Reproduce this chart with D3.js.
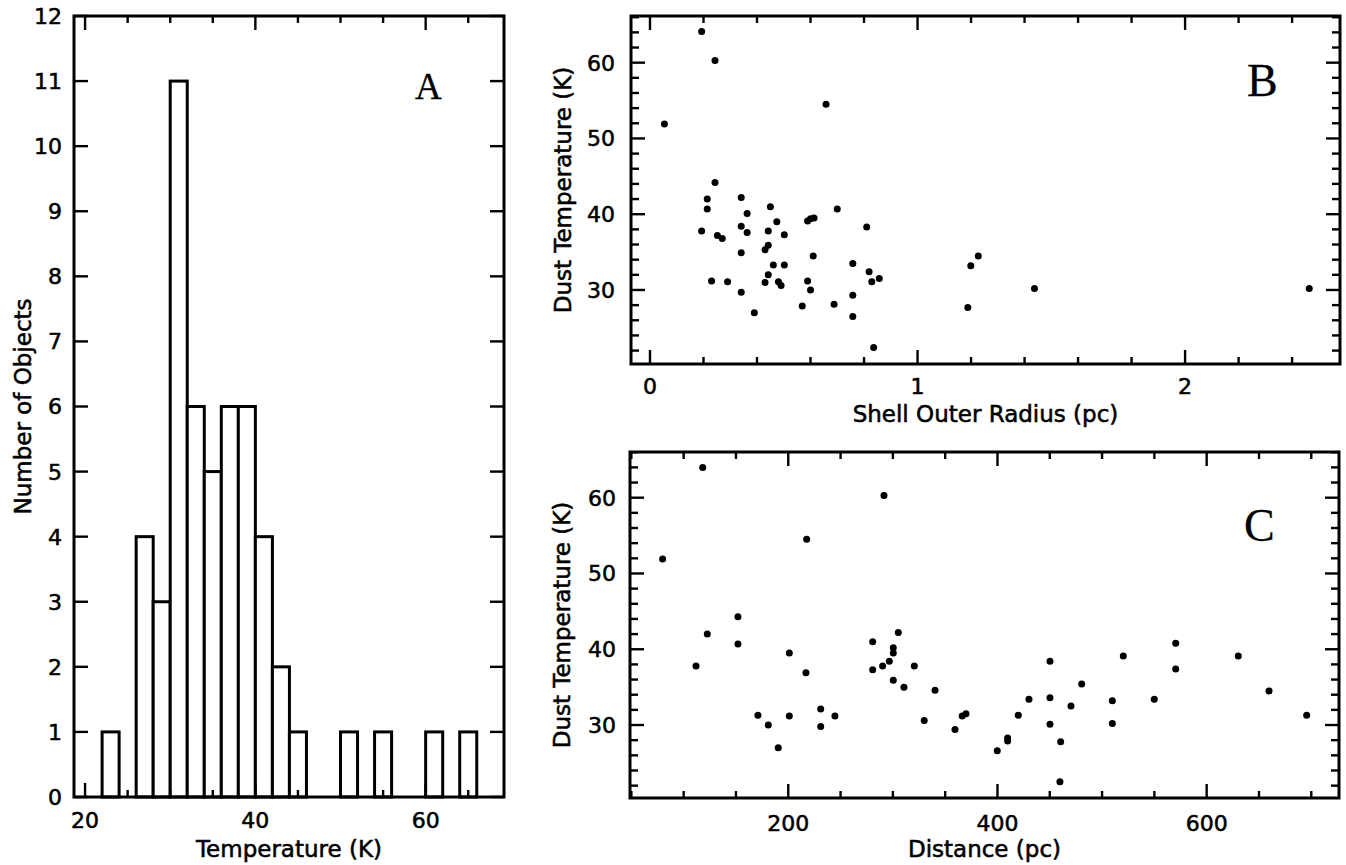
<!DOCTYPE html>
<html>
<head>
<meta charset="utf-8">
<script src="https://cdn.jsdelivr.net/npm/d3@7"></script>
<style>
  body { margin: 0; background: #fff; }
  svg text { font-family: "DejaVu Sans", sans-serif; fill: #000; }
  .lbl { stroke: #000; stroke-width: 0.55px; }
  .panel-tag { font-family: "Liberation Serif", "Times New Roman", serif; stroke: #000; stroke-width: 0.3px; }
</style>
</head>
<body>
<svg id="fig" width="1346" height="865"></svg>
<script>
// ---- Panel A: histogram of dust temperatures (2 K bins) ----
const binStart = [22, 26, 28, 30, 32, 34, 36, 38, 40, 42, 44, 50, 54, 60, 64];
const binWidth = 2;
const binCount = [1, 4, 3, 11, 6, 5, 6, 6, 4, 2, 1, 1, 1, 1, 1];

// ---- Panel B: shell outer radius (pc) vs dust temperature (K) ----
const radiusPc = [0.193, 0.243, 0.054, 0.658, 0.243, 0.214, 0.214, 0.193, 0.252, 0.270,
  0.230, 0.290, 0.341, 0.363, 0.341, 0.363, 0.341, 0.341, 0.390, 0.450,
  0.474, 0.442, 0.502, 0.442, 0.430, 0.461, 0.502, 0.442, 0.430, 0.480,
  0.490, 0.589, 0.600, 0.613, 0.610, 0.589, 0.600, 0.569, 0.700, 0.688,
  0.810, 0.758, 0.758, 0.758, 0.819, 0.829, 0.857, 0.836, 1.227, 1.199,
  1.188, 1.437, 2.464];
const radiusTemp = [64.1, 60.3, 51.9, 54.5, 44.2, 42.0, 40.7, 37.8, 37.2, 36.8,
  31.2, 31.1, 42.2, 40.1, 38.4, 37.6, 34.9, 29.7, 27.0, 41.0,
  39.0, 37.8, 37.3, 35.9, 35.3, 33.3, 33.3, 32.0, 31.0, 31.1,
  30.6, 39.1, 39.4, 39.5, 34.5, 31.2, 30.0, 27.9, 40.7, 28.1,
  38.3, 33.5, 29.3, 26.5, 32.4, 31.1, 31.5, 22.4, 34.5, 33.2,
  27.7, 30.2, 30.2];

// ---- Panel C: distance (pc) vs dust temperature (K) ----
const distancePc = [79.9, 118.2, 111.8, 122.6, 151.9, 151.9, 171.0, 180.9, 190.4, 201.0,
  201.0, 217.6, 216.9, 231.0, 231.0, 244.6, 291.5, 280.7, 280.7, 290.2,
  296.6, 300.4, 300.4, 305.2, 300.4, 310.6, 320.5, 340.3, 330.0, 359.4,
  366.3, 369.9, 399.8, 409.7, 409.7, 419.9, 430.1, 450.2, 450.2, 450.2,
  460.4, 459.7, 470.3, 480.5, 509.8, 509.8, 520.3, 549.9, 570.4, 570.4,
  630.2, 659.6, 695.6];
const distanceTemp = [51.9, 64.0, 37.8, 42.0, 44.3, 40.7, 31.3, 30.0, 27.0, 39.5,
  31.2, 54.5, 36.9, 32.1, 29.8, 31.2, 60.3, 41.0, 37.3, 37.8,
  38.4, 40.2, 39.5, 42.2, 35.9, 35.0, 37.8, 34.6, 30.6, 29.4,
  31.2, 31.5, 26.6, 27.9, 28.3, 31.3, 33.4, 38.4, 33.6, 30.1,
  27.8, 22.5, 32.5, 35.4, 33.2, 30.2, 39.1, 33.4, 40.8, 37.4,
  39.1, 34.5, 31.3];

// ---- Axis ticks ----
const histXMajor = [20, 40, 60];
const histXMinor = [25, 30, 35, 45, 50, 55, 65];
const histYMajor = d3.range(0, 13);
const radiusXMajor = [0, 1, 2];
const radiusXMinor = [0.2, 0.4, 0.6, 0.8, 1.2, 1.4, 1.6, 1.8, 2.2, 2.4];
const tempYMajor = [30, 40, 50, 60];
const tempYMinor = [22, 24, 26, 28, 32, 34, 36, 38, 42, 44, 46, 48, 52, 54, 56, 58, 62, 64, 66];
const distXMajor = [200, 400, 600];
const distXMinor = [50, 100, 150, 250, 300, 350, 450, 500, 550, 650, 700];

const svg = d3.select("#fig");

function makePanel(cfg) {
  const g = svg.append("g");
  const x = d3.scaleLinear().domain(cfg.xDomain).range([cfg.left, cfg.right]);
  const y = d3.scaleLinear().domain(cfg.yDomain).range([cfg.bottom, cfg.top]);
  return { g, x, y, cfg };
}

function drawFrame(p) {
  const { g, x, y, cfg } = p;
  const tg = g.append("g").attr("stroke", "#000").attr("stroke-width", 2.4);
  const xt = (vals, len) => vals.forEach(v => {
    tg.append("line").attr("x1", x(v)).attr("x2", x(v)).attr("y1", cfg.bottom).attr("y2", cfg.bottom - len);
    tg.append("line").attr("x1", x(v)).attr("x2", x(v)).attr("y1", cfg.top).attr("y2", cfg.top + len);
  });
  const yt = (vals, len) => vals.forEach(v => {
    if (y(v) < cfg.top - 0.5 || y(v) > cfg.bottom + 0.5) return;
    tg.append("line").attr("y1", y(v)).attr("y2", y(v)).attr("x1", cfg.left).attr("x2", cfg.left + len);
    tg.append("line").attr("y1", y(v)).attr("y2", y(v)).attr("x1", cfg.right).attr("x2", cfg.right - len);
  });
  xt(cfg.xMajor, 14); xt(cfg.xMinor, 7);
  yt(cfg.yMajor, 14); yt(cfg.yMinor || [], 8);

  g.append("rect")
    .attr("x", cfg.left).attr("y", cfg.top)
    .attr("width", cfg.right - cfg.left).attr("height", cfg.bottom - cfg.top)
    .attr("fill", "none").attr("stroke", "#000").attr("stroke-width", 3);

  // tick labels
  g.append("g").selectAll("text").data(cfg.xMajor).join("text")
    .attr("class", "lbl")
    .attr("x", d => x(d)).attr("y", cfg.xLabelY)
    .attr("text-anchor", "middle").attr("font-size", 22)
    .text(d => d);
  g.append("g").selectAll("text").data(cfg.yMajor).join("text")
    .attr("class", "lbl")
    .attr("x", cfg.yLabelX).attr("y", d => y(d)).attr("dy", "0.36em")
    .attr("text-anchor", "end").attr("font-size", 22)
    .text(d => d);

  // axis titles
  g.append("text").attr("class", "lbl")
    .attr("x", (cfg.left + cfg.right) / 2).attr("y", cfg.xTitleY)
    .attr("text-anchor", "middle").attr("font-size", 23)
    .text(cfg.xTitle);
  g.append("text").attr("class", "lbl")
    .attr("transform", `translate(${cfg.yTitleX},${(cfg.top + cfg.bottom) / 2}) rotate(-90)`)
    .attr("text-anchor", "middle").attr("font-size", 23)
    .text(cfg.yTitle);

  // panel tag
  g.append("text").attr("class", "panel-tag")
    .attr("x", cfg.tag.x).attr("y", cfg.tag.y)
    .attr("font-size", cfg.tag.size)
    .text(cfg.tag.text);
}

// ---------- Panel A ----------
const pA = makePanel({
  left: 74, right: 504, top: 16, bottom: 797,
  xDomain: [18.7, 69.2], yDomain: [0, 12],
  xMajor: histXMajor, xMinor: histXMinor, yMajor: histYMajor,
  xLabelY: 828, yLabelX: 62,
  xTitle: "Temperature (K)", xTitleY: 857,
  yTitle: "Number of Objects", yTitleX: 31,
  tag: { text: "A", x: 415, y: 99, size: 37 }
});
const bins = binStart.map((s, i) => ({ x0: s, x1: s + binWidth, n: binCount[i] }));
pA.g.append("g").selectAll("rect").data(bins).join("rect")
  .attr("x", d => pA.x(d.x0))
  .attr("y", d => pA.y(d.n))
  .attr("width", d => pA.x(d.x1) - pA.x(d.x0))
  .attr("height", d => pA.y(0) - pA.y(d.n))
  .attr("fill", "#fff").attr("stroke", "#000").attr("stroke-width", 3)
  .attr("stroke-linejoin", "miter");
drawFrame(pA);

// ---------- Panel B ----------
const pB = makePanel({
  left: 631, right: 1340, top: 16, bottom: 364,
  xDomain: [-0.071, 2.579], yDomain: [20.23, 66.16],
  xMajor: radiusXMajor, xMinor: radiusXMinor, yMajor: tempYMajor, yMinor: tempYMinor,
  xLabelY: 394, yLabelX: 615,
  xTitle: "Shell Outer Radius (pc)", xTitleY: 422,
  yTitle: "Dust Temperature (K)", yTitleX: 571,
  tag: { text: "B", x: 1247, y: 96, size: 46 }
});
drawFrame(pB);
pB.g.append("g").selectAll("circle").data(radiusPc.map((r, i) => [r, radiusTemp[i]])).join("circle")
  .attr("cx", d => pB.x(d[0])).attr("cy", d => pB.y(d[1])).attr("r", 3.5).attr("fill", "#000");

// ---------- Panel C ----------
const pC = makePanel({
  left: 630, right: 1339, top: 452, bottom: 798,
  xDomain: [48.7, 726.5], yDomain: [20.37, 66.03],
  xMajor: distXMajor, xMinor: distXMinor, yMajor: tempYMajor, yMinor: tempYMinor,
  xLabelY: 831, yLabelX: 616,
  xTitle: "Distance (pc)", xTitleY: 857,
  yTitle: "Dust Temperature (K)", yTitleX: 570,
  tag: { text: "C", x: 1244, y: 541, size: 46 }
});
drawFrame(pC);
pC.g.append("g").selectAll("circle").data(distancePc.map((d, i) => [d, distanceTemp[i]])).join("circle")
  .attr("cx", d => pC.x(d[0])).attr("cy", d => pC.y(d[1])).attr("r", 3.5).attr("fill", "#000");
</script>
</body>
</html>
